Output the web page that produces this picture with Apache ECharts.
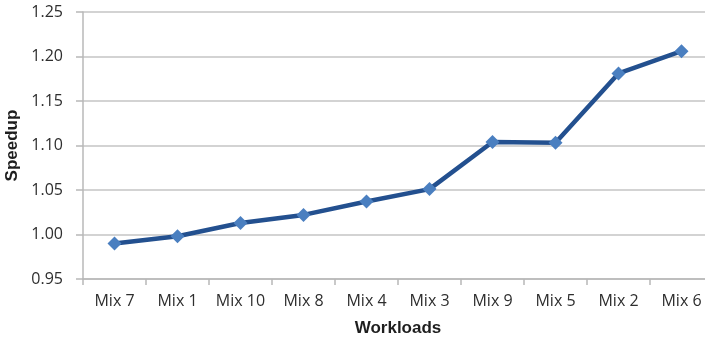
<!DOCTYPE html>
<html>
<head>
<meta charset="utf-8">
<script src="https://cdn.jsdelivr.net/npm/echarts@6/dist/echarts.min.js"></script>
<style>
  html, body { margin: 0; padding: 0; background: #fff; }
  #chart { width: 705px; height: 343px; }
</style>
</head>
<body>
<div id="chart"></div>
<script>
// Workload mixes, ordered by speedup
const workloads = ['Mix 7', 'Mix 1', 'Mix 10', 'Mix 8', 'Mix 4', 'Mix 3', 'Mix 9', 'Mix 5', 'Mix 2', 'Mix 6'];
const speedup = [0.990, 0.998, 1.013, 1.022, 1.037, 1.051, 1.104, 1.103, 1.181, 1.206];

const yMin = 0.95;
const yMax = 1.25;
const yStep = 0.05;

const chart = echarts.init(document.getElementById('chart'), null, { renderer: 'canvas' });

const labelFont = { fontFamily: 'Open Sans', fontSize: 16, color: '#2e2e2e' };
const titleFont = { fontFamily: 'Liberation Sans', fontSize: 17, fontWeight: 'bold', color: '#1e1e1e' };

chart.setOption({
  animation: false,
  grid: { left: 83, top: 12, width: 630, height: 267, containLabel: false, outerBoundsMode: 'none' },
  xAxis: {
    type: 'category',
    data: workloads,
    boundaryGap: true,
    name: 'Workloads',
    nameLocation: 'middle',
    nameGap: 41,
    nameTextStyle: titleFont,
    axisLine: { lineStyle: { color: '#b8b8b8', width: 1.5 } },
    axisTick: { show: true, length: 6, lineStyle: { color: '#b8b8b8', width: 1.5 } },
    axisLabel: Object.assign({ margin: 14, interval: 0 }, labelFont),
    splitLine: { show: false }
  },
  yAxis: {
    type: 'value',
    min: yMin,
    max: yMax,
    interval: yStep,
    name: 'Speedup',
    nameLocation: 'middle',
    nameGap: 62,
    nameTextStyle: titleFont,
    axisLine: { show: true, lineStyle: { color: '#b8b8b8', width: 1.5 } },
    axisTick: { show: true, length: 7, lineStyle: { color: '#b8b8b8', width: 1.5 } },
    axisLabel: Object.assign({
      margin: 20,
      formatter: v => v.toFixed(2)
    }, labelFont),
    splitLine: { show: true, lineStyle: { color: '#c4c4c4', width: 1.5 } }
  },
  series: [{
    type: 'line',
    data: speedup,
    lineStyle: { color: '#23508f', width: 4.5 },
    symbol: 'diamond',
    symbolSize: 14,
    itemStyle: { color: '#4a7fc0' },
    z: 3
  }]
});
</script>
</body>
</html>
